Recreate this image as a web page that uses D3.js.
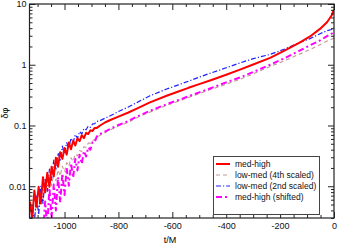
<!DOCTYPE html>
<html>
<head>
<meta charset="utf-8">
<script src="https://cdn.jsdelivr.net/npm/d3@7"></script>
<style>
body { margin: 0; background: #fff; }
svg { display: block; font-family: "Liberation Sans", Arial, sans-serif; }
</style>
</head>
<body>
<div id="chart"></div>
<script>
// t/M sample times (dense where the curves are noisy)
var times = [-1128,-1120,-1112,-1104,-1096,-1088,-1080,-1072,-1064,-1056,-1048,-1040,-1032,-1024,-1016,-1008,
    -1000,-992,-984,-976,-968,-960,-952,-944,-936,-928,-920,-912,-904,-896,-888,-880,
    -868,-850,-830,-800,-765,-730,-683,-621,-580,-540,-500,-460,-400,-349,-300,-237,-182,-126,-89,-52,-26,-9,0];

var medHigh = [0.0056,0.0029,0.0085,0.0046,0.0098,0.0052,0.0141,0.0079,0.0166,0.0098,0.0209,0.0145,0.0295,0.0209,0.0363,0.0282,
    0.0427,0.0331,0.0525,0.0407,0.0562,0.0468,0.0617,0.0550,0.0692,0.0617,0.0759,0.0724,0.0832,0.0813,0.0912,0.0912,
    0.100,0.112,0.123,0.140,0.162,0.191,0.240,0.309,0.359,0.417,0.479,0.550,0.684,0.832,1.01,1.30,1.72,2.34,2.92,3.89,5.01,6.46,8.13];

var lowMed4th = [null,null,0.0030,0.0052,0.0038,0.0079,0.0060,0.0115,0.0081,0.0141,0.0102,0.0162,0.0123,0.0186,0.0148,0.0214,
    0.0174,0.0245,0.0214,0.0295,0.0257,0.0339,0.0316,0.0389,0.0372,0.0447,0.0437,0.0513,0.0513,0.0562,0.0589,0.0631,
    0.0692,0.0759,0.0851,0.0977,0.112,0.135,0.166,0.214,0.248,0.288,0.335,0.389,0.479,0.575,0.708,0.933,1.17,1.51,1.78,2.14,2.45,2.63,2.75];

var lowMed2nd = [0.0018,0.0050,0.0025,0.0069,0.0034,0.0100,0.0052,0.0135,0.0083,0.0191,0.0126,0.0269,0.0191,0.0355,0.0269,0.0457,
    0.0339,0.0525,0.0427,0.0617,0.0525,0.0708,0.0617,0.0794,0.0724,0.0891,0.0851,0.0977,0.0933,0.106,0.107,0.117,
    0.120,0.132,0.145,0.170,0.200,0.240,0.309,0.398,0.462,0.537,0.624,0.724,0.891,1.07,1.26,1.48,1.82,2.34,2.69,3.24,3.63,3.80,4.07];

var medHighShifted = [null,null,null,null,null,null,0.0016,0.0056,0.0022,0.0093,0.0030,0.0107,0.0040,0.0141,0.0054,0.0162,
    0.0072,0.0200,0.0102,0.0240,0.0138,0.0282,0.0182,0.0331,0.0234,0.0380,0.0309,0.0437,0.0398,0.0537,0.0537,0.0661,
    0.0724,0.0794,0.0881,0.102,0.117,0.141,0.174,0.224,0.260,0.302,0.351,0.407,0.513,0.617,0.759,1.00,1.29,1.72,2.09,2.51,2.95,3.24,3.47];

var seriesNames = ['med-high', 'low-med (4th scaled)', 'low-med (2nd scaled)', 'med-high (shifted)'];
var xMajorTicks = [-1000, -800, -600, -400, -200, 0];
var yMajorTicks = [0.01, 0.1, 1, 10];

var W = 339, H = 247;
var margin = {top: 4, right: 5, bottom: 29, left: 29.5};

var svg = d3.select('#chart').append('svg')
    .attr('width', W)
    .attr('height', H);

var x = d3.scaleLinear()
    .domain([-1130, 0])
    .range([margin.left, W - margin.right]);

var y = d3.scaleLog()
    .domain([0.003, 10])
    .range([H - margin.bottom, margin.top]);

// minor ticks
var xMinor = d3.range(-1100, 1, 50).filter(function(d) { return xMajorTicks.indexOf(d) < 0; });
var yMinor = [];
[0.001, 0.01, 0.1, 1].forEach(function(dec) {
    for (var k = 2; k <= 9; k++) {
        var v = +(dec * k).toPrecision(3);
        if (v >= 0.003 && v <= 10) yMinor.push(v);
    }
});

svg.append('clipPath').attr('id', 'plotclip')
  .append('rect')
    .attr('x', x.range()[0])
    .attr('y', y.range()[1])
    .attr('width', x.range()[1] - x.range()[0])
    .attr('height', y.range()[0] - y.range()[1]);

var series = [
    {name: seriesNames[0], values: medHigh,        color: '#ff0000', width: 2,   dash: null},
    {name: seriesNames[1], values: lowMed4th,      color: '#c49a94', width: 1.1, dash: '4,3'},
    {name: seriesNames[2], values: lowMed2nd,      color: '#2020ff', width: 1.2, dash: '5,2,1.2,2'},
    {name: seriesNames[3], values: medHighShifted, color: '#ff00ff', width: 2,   dash: '6,3,2,3'}
];

var line = d3.line()
    .defined(function(d) { return d.v != null; })
    .x(function(d) { return x(d.t); })
    .y(function(d) { return y(Math.max(d.v, 0.0005)); });

var plot = svg.append('g').attr('clip-path', 'url(#plotclip)');

[1, 3, 2, 0].forEach(function(i) {
    var s = series[i];
    var pts = times.map(function(t, j) { return {t: t, v: s.values[j]}; });
    plot.append('path')
        .attr('fill', 'none')
        .attr('stroke', s.color)
        .attr('stroke-width', s.width)
        .attr('stroke-dasharray', s.dash)
        .attr('stroke-linejoin', 'round')
        .attr('d', line(pts));
});

// axes, ticks pointing inward on all sides
function noDomain(g) { g.select('.domain').remove(); g.selectAll('line').attr('stroke', '#222'); }

var x0 = x.range()[0], x1 = x.range()[1], y0 = y.range()[0], y1 = y.range()[1];

svg.append('g')
    .attr('transform', 'translate(0,' + y0 + ')')
    .call(d3.axisBottom(x).tickValues(xMajorTicks).tickSize(-6).tickPadding(5)
        .tickFormat(function(d) { return String(d); }))
    .call(noDomain);
svg.append('g')
    .attr('transform', 'translate(0,' + y0 + ')')
    .call(d3.axisBottom(x).tickValues(xMinor).tickSize(-3).tickFormat(''))
    .call(noDomain);
svg.append('g')
    .attr('transform', 'translate(0,' + y1 + ')')
    .call(d3.axisTop(x).tickValues(xMajorTicks).tickSize(-6).tickFormat(''))
    .call(noDomain);
svg.append('g')
    .attr('transform', 'translate(0,' + y1 + ')')
    .call(d3.axisTop(x).tickValues(xMinor).tickSize(-3).tickFormat(''))
    .call(noDomain);

svg.append('g')
    .attr('transform', 'translate(' + x0 + ',0)')
    .call(d3.axisLeft(y).tickValues(yMajorTicks).tickSize(-6).tickPadding(3)
        .tickFormat(function(d) { return String(d); }))
    .call(noDomain);
svg.append('g')
    .attr('transform', 'translate(' + x0 + ',0)')
    .call(d3.axisLeft(y).tickValues(yMinor).tickSize(-3).tickFormat(''))
    .call(noDomain);
svg.append('g')
    .attr('transform', 'translate(' + x1 + ',0)')
    .call(d3.axisRight(y).tickValues(yMajorTicks).tickSize(-6).tickFormat(''))
    .call(noDomain);
svg.append('g')
    .attr('transform', 'translate(' + x1 + ',0)')
    .call(d3.axisRight(y).tickValues(yMinor).tickSize(-3).tickFormat(''))
    .call(noDomain);

svg.selectAll('.tick text')
    .attr('fill', '#111')
    .style('font-size', '9px')
    .style('font-family', '"Liberation Sans", Arial, sans-serif');

svg.append('rect')
    .attr('x', x0).attr('y', y1)
    .attr('width', x1 - x0).attr('height', y0 - y1)
    .attr('fill', 'none')
    .attr('stroke', '#222')
    .attr('stroke-width', 1.2);

// axis titles
svg.append('text')
    .attr('transform', 'translate(8,113) rotate(-90)')
    .attr('text-anchor', 'middle')
    .style('font-size', '9px')
    .text('δφ');

svg.append('text')
    .attr('x', 170)
    .attr('y', 243)
    .attr('text-anchor', 'middle')
    .style('font-size', '9px')
    .text('t/M');

// legend
var legend = svg.append('g').attr('class', 'legend');
legend.append('rect')
    .attr('x', 213.5).attr('y', 156.5)
    .attr('width', 106).attr('height', 58)
    .attr('fill', '#fff')
    .attr('stroke', '#444')
    .attr('stroke-width', 1);

series.forEach(function(s, i) {
    var ry = 164 + i * 11;
    legend.append('line')
        .attr('x1', 216).attr('x2', 230)
        .attr('y1', ry).attr('y2', ry)
        .attr('stroke', s.color)
        .attr('stroke-width', s.width)
        .attr('stroke-dasharray', s.dash);
    legend.append('text')
        .attr('x', 235)
        .attr('y', ry)
        .attr('dy', '0.35em')
        .style('font-size', '8.5px')
        .attr('fill', '#111')
        .text(s.name);
});
</script>
</body>
</html>
